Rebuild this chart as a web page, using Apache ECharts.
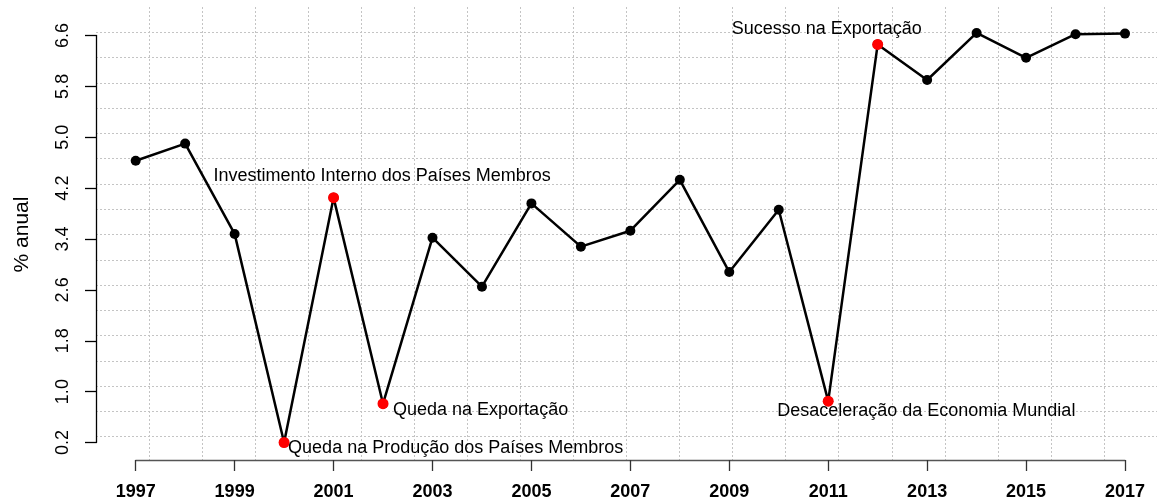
<!DOCTYPE html>
<html>
<head>
<meta charset="utf-8">
<script src="https://cdn.jsdelivr.net/npm/echarts@6/dist/echarts.min.js"></script>
<style>
  html, body { margin: 0; padding: 0; background: #fff; }
  #main { width: 1157px; height: 501px; }
</style>
</head>
<body>
<div id="main"></div>
<script>
// dados
var years = [1997, 1998, 1999, 2000, 2001, 2002, 2003, 2004, 2005, 2006, 2007,
             2008, 2009, 2010, 2011, 2012, 2013, 2014, 2015, 2016, 2017];
var growth = [4.63, 4.90, 3.48, 0.20, 4.05, 0.81, 3.42, 2.65, 3.96, 3.28, 3.53,
              4.33, 2.88, 3.86, 0.85, 6.46, 5.90, 6.64, 6.25, 6.62, 6.63];
var eventYears = [2000, 2001, 2002, 2011, 2012];
var eventNames = [
  'Queda na Produção dos Países Membros',
  'Investimento Interno dos Países Membros',
  'Queda na Exportação',
  'Desaceleração da Economia Mundial',
  'Sucesso na Exportação'
];
var xTicks = [1997, 1999, 2001, 2003, 2005, 2007, 2009, 2011, 2013, 2015, 2017];
var yTicks = [0.2, 1.0, 1.8, 2.6, 3.4, 4.2, 5.0, 5.8, 6.6];

// deslocamento dos textos em relação ao ponto (px)
var labelOffsets = [[4, 6], [-120, -22], [10, 6], [-51, 10], [-146, -15]];

var font = "'Liberation Sans', Arial, sans-serif";
var myChart = echarts.init(document.getElementById('main'));

var lineData = [];
for (var i = 0; i < years.length; i++) {
  lineData.push([years[i], growth[i]]);
}
var eventData = [];
for (var j = 0; j < eventYears.length; j++) {
  var idx = years.indexOf(eventYears[j]);
  eventData.push({
    value: [eventYears[j], growth[idx]],
    name: eventNames[j],
    label: { offset: labelOffsets[j] }
  });
}

var gridLine = { show: true, showMinLine: false, showMaxLine: false,
  lineStyle: { color: '#c4c4c4', width: 1, type: [2, 2] } };

var option = {
  animation: false,
  backgroundColor: '#fff',
  grid: [
    { left: 96, top: 7, width: 1068.5, height: 455 },   // região do gráfico (grade)
    { left: 135.7, top: 35.5, width: 989.3, height: 409 } // eixos
  ],
  xAxis: [
    { gridIndex: 0, type: 'value', min: 0, max: 20, interval: 1,
      axisLine: { show: false }, axisTick: { show: false }, axisLabel: { show: false },
      splitLine: gridLine },
    { gridIndex: 1, type: 'value', min: 1997, max: 2017, interval: 2,
      position: 'bottom', offset: 17.5,
      axisLine: { show: true, lineStyle: { color: '#555', width: 1.3 } },
      axisTick: { show: true, length: 11, customValues: xTicks, lineStyle: { color: '#333', width: 1.3 } },
      axisLabel: { show: true, customValues: xTicks, margin: 23, color: '#000',
        fontFamily: font, fontSize: 18, fontWeight: 'bold',
        formatter: function (v) { return String(v); } },
      splitLine: { show: false } }
  ],
  yAxis: [
    { gridIndex: 0, type: 'value', min: 0, max: 18, interval: 1,
      name: '% anual', nameLocation: 'middle', nameRotate: 90, nameGap: 63,
      nameTextStyle: { color: '#000', fontFamily: font, fontSize: 21 },
      axisLine: { show: false }, axisTick: { show: false }, axisLabel: { show: false },
      splitLine: gridLine },
    { gridIndex: 1, type: 'value', min: 0.2, max: 6.6, interval: 0.8,
      position: 'left', offset: 39.7,
      axisLine: { show: true, lineStyle: { color: '#000', width: 1.3 } },
      axisTick: { show: true, length: 11, customValues: yTicks, lineStyle: { color: '#000', width: 1.3 } },
      axisLabel: { show: true, customValues: yTicks, rotate: 90, margin: 24, color: '#000',
        fontFamily: font, fontSize: 18,
        formatter: function (v) { return Number(v).toFixed(1); } },
      splitLine: { show: false } }
  ],
  series: [
    {
      type: 'line',
      xAxisIndex: 1, yAxisIndex: 1,
      data: lineData,
      clip: false,
      symbol: 'circle',
      symbolSize: 10,
      itemStyle: { color: '#000' },
      lineStyle: { color: '#000', width: 2.5 },
      z: 3
    },
    {
      type: 'scatter',
      xAxisIndex: 1, yAxisIndex: 1,
      data: eventData,
      clip: false,
      symbol: 'circle',
      symbolSize: 11,
      itemStyle: { color: '#ff0000', opacity: 1 },
      label: {
        show: true, position: 'inside', align: 'left', verticalAlign: 'middle',
        color: '#000', fontFamily: font, fontSize: 18, textBorderWidth: 0,
        formatter: function (p) { return p.name; }
      },
      z: 4
    }
  ]
};

myChart.setOption(option);
</script>
</body>
</html>
